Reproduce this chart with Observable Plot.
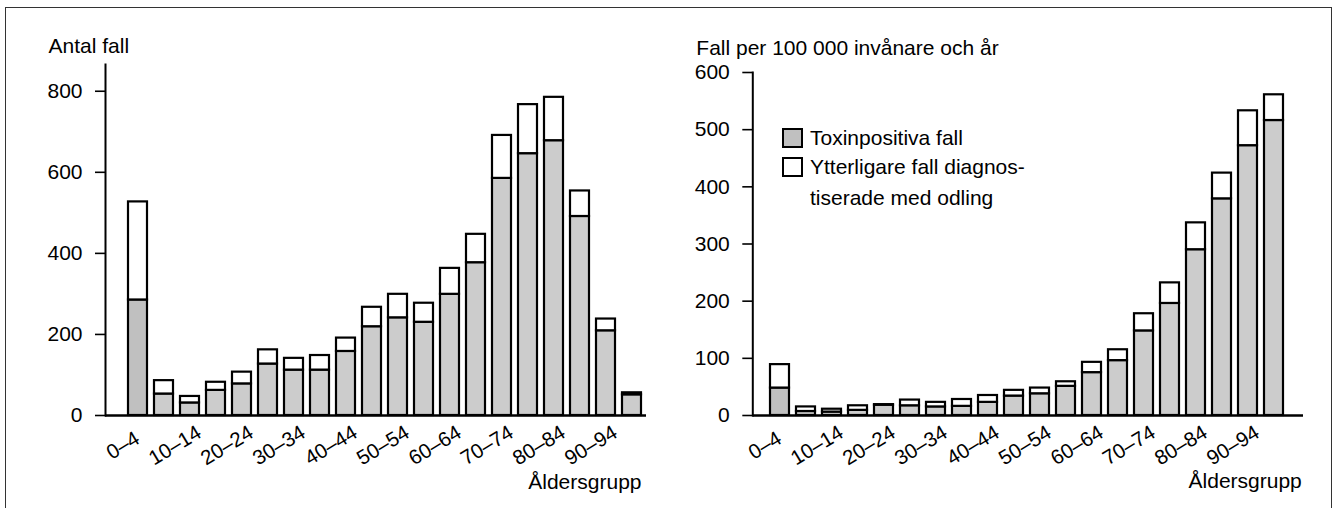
<!DOCTYPE html>
<html><head><meta charset="utf-8">
<script src="https://cdn.jsdelivr.net/npm/d3@7"></script>
<script src="https://cdn.jsdelivr.net/npm/@observablehq/plot@0.6"></script>
<style>
html,body{margin:0;padding:0;background:#fff;}
#wrap{position:relative;width:1338px;height:508px;overflow:hidden;font-family:"Liberation Sans",Arial,sans-serif;color:#000;}
#border{position:absolute;left:5px;top:7px;width:1327px;height:560px;border:1px solid #333;box-sizing:border-box;}
.chart{position:absolute;top:0;}
.legend-sw{position:absolute;width:21px;height:20px;border:2px solid #000;box-sizing:border-box;}
.legend-tx{position:absolute;font-size:21px;line-height:31px;white-space:nowrap;}
</style></head><body>
<div id="wrap">
  <div id="border"></div>
  <div id="left" class="chart" style="left:0px"></div>
  <div id="right" class="chart" style="left:669px"></div>
  <div class="legend-sw" style="left:782px;top:128px;background:#c0c0c0"></div>
  <div class="legend-sw" style="left:782px;top:157px;background:#fff"></div>
  <div class="legend-tx" id="lg1" style="left:810px;top:121.5px"></div>
  <div class="legend-tx" id="lg2" style="left:810px;top:150.5px"></div>
</div>
<script>
const ages = ["0–4","5–9","10–14","15–19","20–24","25–29","30–34","35–39","40–44","45–49","50–54","55–59","60–64","65–69","70–74","75–79","80–84","85–89","90–94","95–"];
const tickAges = ["0–4","10–14","20–24","30–34","40–44","50–54","60–64","70–74","80–84","90–94"];
const countToxin = [285,53,31,62,78,127,112,112,158,219,241,230,299,377,585,646,678,491,209,51];
const countTotal = [527,86,47,82,107,162,141,148,191,267,299,277,363,447,691,767,785,554,238,56];
const rateToxin = [48,7,6,9,18,17,15,16,23,34,38,51,75,96,148,196,290,379,472,516];
const rateTotal = [89,15,11,17,19,27,23,28,35,44,48,59,93,115,178,232,337,424,533,561];
const countTicks = [0,200,400,600,800];
const rateTicks = [0,100,200,300,400,500,600];
const leftTitle = "Antal fall";
const rightTitle = "Fall per 100 000 invånare och år";
const xTitle = "Åldersgrupp";
const legendLabels = ["Toxinpositiva fall", "Ytterligare fall diagnos-", "tiserade med odling"];

document.getElementById("lg1").textContent = legendLabels[0];
document.getElementById("lg2").innerHTML = legendLabels[1] + "<br>" + legendLabels[2];

function makeChart(o) {
  const rows = ages.map((age, i) => ({age, tox: o.tox[i], tot: o.tot[i]}));
  const fillFor = d => d.age === ages[0] ? "#c0c0c0" : "#cccccc";
  return Plot.plot({
    width: 669, height: 508,
    marginLeft: o.ml, marginRight: o.mr, marginTop: o.mt, marginBottom: 93,
    style: {fontFamily: '"Liberation Sans", Arial, sans-serif', fontSize: "21px", background: "transparent", overflow: "visible", color: "#000"},
    x: {type: "band", domain: ages, paddingInner: 0.26, paddingOuter: o.po, align: o.align, axis: null},
    y: {domain: o.ydomain, axis: null},
    color: {type: "identity"},
    marks: [
      Plot.barY(rows, {x: "age", y1: 0, y2: "tox", fill: fillFor, stroke: "#000", strokeWidth: 2.2}),
      Plot.barY(rows, {x: "age", y1: "tox", y2: "tot", fill: "#fff", stroke: "#000", strokeWidth: 2.2}),
      Plot.ruleY([0], {strokeWidth: 2.4}),
      Plot.frame({anchor: "left", strokeWidth: 2}),
      Plot.axisY({ticks: o.yticks, tickSize: 10, tickFormat: () => "", label: null, strokeWidth: 1.6}),
      Plot.axisY({ticks: o.yticks, tickSize: 0, tickPadding: 23, fontSize: 21, label: null}),
      Plot.text(tickAges, {x: d => d, frameAnchor: "bottom", dx: -15, dy: 30, rotate: -31, textAnchor: "middle", lineAnchor: "middle", fontSize: 20.5}),
      Plot.text([o.title], {frameAnchor: "top-left", dx: o.tdx, dy: o.tdy, textAnchor: "start", lineAnchor: "top", fontSize: 21}),
      Plot.text([xTitle], {frameAnchor: "bottom-right", dx: o.xdx, dy: o.xdy, textAnchor: "end", lineAnchor: "top", fontSize: 21})
    ]
  });
}

document.getElementById("left").appendChild(makeChart({
  tox: countToxin, tot: countTotal, ml: 105, mr: 23, mt: 64, po: 0.2526, align: 0.82,
  ydomain: [0, 866], yticks: countTicks, title: leftTitle, tdx: -57, tdy: -26.7, xdx: -5, xdy: 59
}));
document.getElementById("right").appendChild(makeChart({
  tox: rateToxin, tot: rateTotal, ml: 83.3, mr: 35, mt: 72, po: 0.422, align: 0.465,
  ydomain: [0, 600], yticks: rateTicks, title: rightTitle, tdx: -56.5, tdy: -32.7, xdx: -1.7, xdy: 57.6
}));
</script>
</body></html>
